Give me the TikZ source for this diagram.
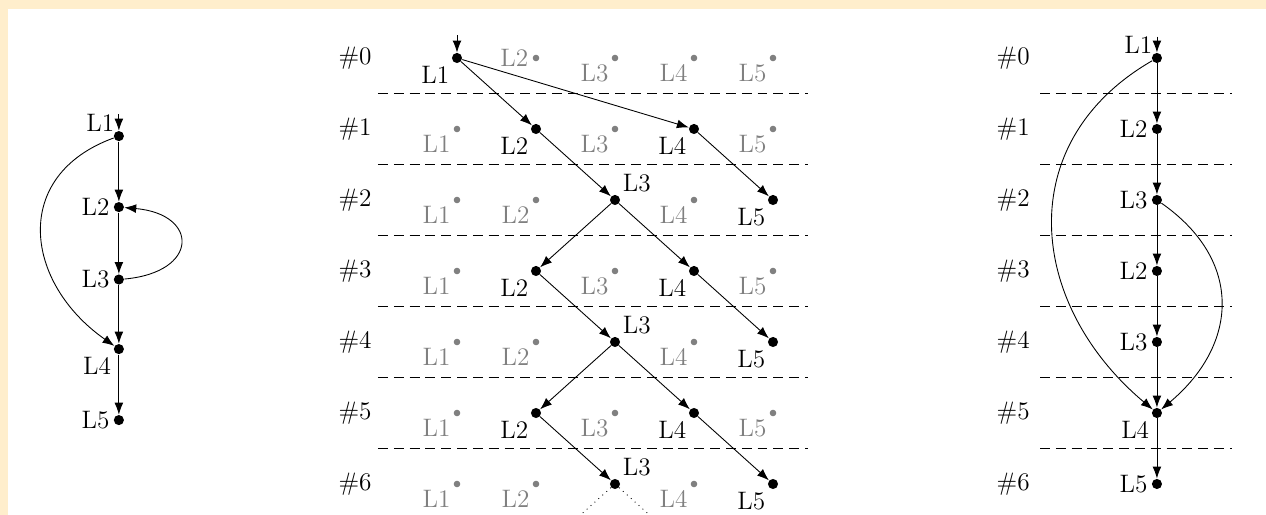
\documentclass[tikz,border=0pt]{standalone}
\usepackage{amsmath}
\usepackage{tikz}
\usetikzlibrary{arrows.meta}
\definecolor{cream}{RGB}{255,238,204}

\begin{document}
\begin{tikzpicture}[x=1.264cm,y=1.136cm,>={Latex[length=5.4pt,width=4pt]},
    font=\fontsize{11.5pt}{14pt}\selectfont,
    blob/.style={circle,fill,inner sep=0pt,minimum size=4.6pt},
    on/.style={blob,label={below left:#1}},
    off/.style={circle,fill=gray,inner sep=0pt,minimum size=3pt,label={[gray]below left:#1}},
    cut/.style={dash pattern=on 4.5pt off 2.7pt},
    every label/.style={inner sep=1.6pt}]
    % frame
    \useasboundingbox (-5.7848,-6.4366) rectangle (10.2405,0.8169);
    \fill[cream] (-5.7848,-6.4366) rectangle (10.2405,0.8169);
    \fill[white] (-5.6835,-6.4366) rectangle (10.2405,0.690);
    % left: the loop
    \coordinate (P0) at (-4.28,-0.79);
    \node[blob,label={[label distance=-2pt]above left:L1}] (P1) at (-4.28,-1.1) {};
    \node[blob,label=left:L2] (P2) at (-4.28,-2.1) {};
    \node[blob,label=left:L3] (P3) at (-4.28,-3.12) {};
    \node[blob,label=below left:L4] (P4) at (-4.28,-4.1) {};
    \node[blob,label=left:L5] (P5) at (-4.28,-5.1) {};
    \draw[->] (P0) -- (P1);
    \draw[->] (P1) -- (P2);
    \draw[->] (P2) -- (P3);
    \draw[->] (P3) -- (P4);
    \draw[->] (P4) -- (P5);
    \draw[->] (P1) to[out=200,in=145,looseness=1.35] (P4);
    \draw[->] (P3) to[out=5,in=-5,looseness=2.7] (P2);
    % middle: all steps
    \node (H0) at (-1.29,0) {\#0};
    \node (H1) at (-1.29,-1) {\#1};
    \node (H2) at (-1.29,-2) {\#2};
    \node (H3) at (-1.29,-3) {\#3};
    \node (H4) at (-1.29,-4) {\#4};
    \node (H5) at (-1.29,-5) {\#5};
    \node (H6) at (-1.29,-6) {\#6};
    \draw[cut] (-1,-0.5) -- (4.44,-0.5);
    \draw[cut] (-1,-1.5) -- (4.44,-1.5);
    \draw[cut] (-1,-2.5) -- (4.44,-2.5);
    \draw[cut] (-1,-3.5) -- (4.44,-3.5);
    \draw[cut] (-1,-4.5) -- (4.44,-4.5);
    \draw[cut] (-1,-5.5) -- (4.44,-5.5);
    \coordinate (M00) at (0,0.32);
    \node[on=L1] (M01) at (0,0) {};
    \node[circle,fill=gray,inner sep=0pt,minimum size=3pt,label={[gray]left:L2}] (M02) at (1,0) {};
    \node[off=L3] (M03) at (2,0) {};
    \node[off=L4] (M04) at (3,0) {};
    \node[off=L5] (M05) at (4,0) {};
    \node[off=L1] (M11) at (0,-1) {};
    \node[on=L2] (M12) at (1,-1) {};
    \node[off=L3] (M13) at (2,-1) {};
    \node[on=L4] (M14) at (3,-1) {};
    \node[off=L5] (M15) at (4,-1) {};
    \node[off=L1] (M21) at (0,-2) {};
    \node[off=L2] (M22) at (1,-2) {};
    \node[blob,label=above right:L3] (M23) at (2,-2) {};
    \node[off=L4] (M24) at (3,-2) {};
    \node[on=L5] (M25) at (4,-2) {};
    \node[off=L1] (M31) at (0,-3) {};
    \node[on=L2] (M32) at (1,-3) {};
    \node[off=L3] (M33) at (2,-3) {};
    \node[on=L4] (M34) at (3,-3) {};
    \node[off=L5] (M35) at (4,-3) {};
    \node[off=L1] (M41) at (0,-4) {};
    \node[off=L2] (M42) at (1,-4) {};
    \node[blob,label=above right:L3] (M43) at (2,-4) {};
    \node[off=L4] (M44) at (3,-4) {};
    \node[on=L5] (M45) at (4,-4) {};
    \node[off=L1] (M51) at (0,-5) {};
    \node[on=L2] (M52) at (1,-5) {};
    \node[off=L3] (M53) at (2,-5) {};
    \node[on=L4] (M54) at (3,-5) {};
    \node[off=L5] (M55) at (4,-5) {};
    \node[off=L1] (M61) at (0,-6) {};
    \node[off=L2] (M62) at (1,-6) {};
    \node[blob,label=above right:L3] (M63) at (2,-6) {};
    \node[off=L4] (M64) at (3,-6) {};
    \node[on=L5] (M65) at (4,-6) {};
    \coordinate (M72) at (1,-7);
    \coordinate (M74) at (3,-7);
    \draw[->] (M00) -- (M01);
    \draw[->] (M01) -- (M12);
    \draw[->] (M01) -- (M14);
    \draw[->] (M12) -- (M23);
    \draw[->] (M14) -- (M25);
    \draw[->] (M23) -- (M32);
    \draw[->] (M23) -- (M34);
    \draw[->] (M32) -- (M43);
    \draw[->] (M34) -- (M45);
    \draw[->] (M43) -- (M52);
    \draw[->] (M43) -- (M54);
    \draw[->] (M52) -- (M63);
    \draw[->] (M54) -- (M65);
    \draw[dotted] (M63) -- (M72);
    \draw[dotted] (M63) -- (M74);
    % right: one path
    \node (K0) at (7.04,0) {\#0};
    \node (K1) at (7.04,-1) {\#1};
    \node (K2) at (7.04,-2) {\#2};
    \node (K3) at (7.04,-3) {\#3};
    \node (K4) at (7.04,-4) {\#4};
    \node (K5) at (7.04,-5) {\#5};
    \node (K6) at (7.04,-6) {\#6};
    \draw[cut] (7.38,-0.5) -- (9.81,-0.5);
    \draw[cut] (7.38,-1.5) -- (9.81,-1.5);
    \draw[cut] (7.38,-2.5) -- (9.81,-2.5);
    \draw[cut] (7.38,-3.5) -- (9.81,-3.5);
    \draw[cut] (7.38,-4.5) -- (9.81,-4.5);
    \draw[cut] (7.38,-5.5) -- (9.81,-5.5);
    \coordinate (Q) at (8.86,0.3);
    \node[blob,label={[label distance=-2pt]above left:L1}] (Q0) at (8.86,0) {};
    \node[blob,label=left:L2] (Q1) at (8.86,-1) {};
    \node[blob,label=left:L3] (Q2) at (8.86,-2) {};
    \node[blob,label=left:L2] (Q3) at (8.86,-3) {};
    \node[blob,label=left:L3] (Q4) at (8.86,-4) {};
    \node[blob,label=below left:L4] (Q5) at (8.86,-5) {};
    \node[blob,label=left:L5] (Q6) at (8.86,-6) {};
    \draw[->] (Q) -- (Q0);
    \draw[->] (Q0) -- (Q1);
    \draw[->] (Q1) -- (Q2);
    \draw[->] (Q2) -- (Q3);
    \draw[->] (Q3) -- (Q4);
    \draw[->] (Q4) -- (Q5);
    \draw[->] (Q5) -- (Q6);
    \draw[->] (Q0) to[out=210,in=140,looseness=1.2] (Q5);
    \draw[->] (Q2) to[out=-35,in=40,looseness=1.25] (Q5);
\end{tikzpicture}
\end{document}
